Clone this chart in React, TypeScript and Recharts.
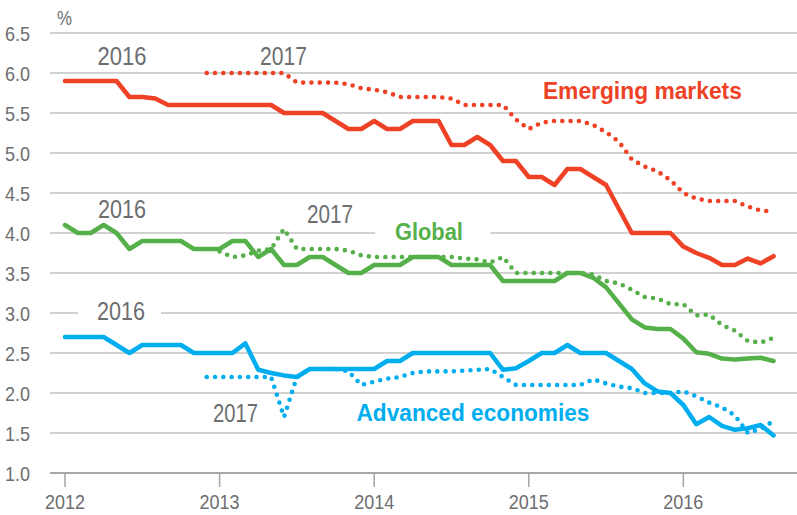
import React from 'react';
import { LineChart, Line, XAxis, YAxis, CartesianGrid, ReferenceArea, ReferenceDot } from 'recharts';

// Monthly forecasts, Jan 2012 .. Aug 2016 (56 months)
const em2016 = [
  5.9, 5.9, 5.9, 5.9, 5.9, 5.7, 5.7, 5.68, 5.6, 5.6, 5.6, 5.6,
  5.6, 5.6, 5.6, 5.6, 5.6, 5.5, 5.5, 5.5, 5.5, 5.4, 5.3, 5.3,
  5.4, 5.3, 5.3, 5.4, 5.4, 5.4, 5.1, 5.1, 5.2, 5.1, 4.9, 4.9,
  4.7, 4.7, 4.6, 4.8, 4.8, 4.7, 4.6, 4.3, 4.0, 4.0, 4.0, 4.0,
  3.83, 3.75, 3.69, 3.6, 3.6, 3.68, 3.62, 3.71,
];
const em2017 = [
  null, null, null, null, null, null, null, null, null, null, null, 6.0,
  6.0, 6.0, 6.0, 6.0, 6.0, 6.0, 5.88, 5.88, 5.88, 5.88, 5.86, 5.81,
  5.79, 5.76, 5.7, 5.7, 5.7, 5.7, 5.68, 5.6, 5.6, 5.6, 5.6, 5.42,
  5.3, 5.38, 5.4, 5.4, 5.4, 5.35, 5.26, 5.14, 4.92, 4.83, 4.77, 4.66,
  4.5, 4.43, 4.4, 4.4, 4.4, 4.33, 4.28, 4.27,
];
const gl2016 = [
  4.1, 4.0, 4.0, 4.1, 4.0, 3.8, 3.9, 3.9, 3.9, 3.9, 3.8, 3.8,
  3.8, 3.9, 3.9, 3.7, 3.8, 3.6, 3.6, 3.7, 3.7, 3.6, 3.5, 3.5,
  3.6, 3.6, 3.6, 3.7, 3.7, 3.7, 3.6, 3.6, 3.6, 3.6, 3.4, 3.4,
  3.4, 3.4, 3.4, 3.5, 3.5, 3.44, 3.32, 3.12, 2.92, 2.82, 2.8, 2.8,
  2.68, 2.51, 2.49, 2.43, 2.42, 2.43, 2.44, 2.4,
];
const gl2017 = [
  null, null, null, null, null, null, null, null, null, null, null, null,
  3.77, 3.7, 3.72, 3.78, 3.8, 4.05, 3.8, 3.8, 3.8, 3.8, 3.78, 3.72,
  3.7, 3.7, 3.7, 3.7, 3.7, 3.7, 3.7, 3.68, 3.67, 3.63, 3.7, 3.5,
  3.5, 3.5, 3.5, 3.5, 3.5, 3.48, 3.4, 3.37, 3.29, 3.2, 3.18, 3.11,
  3.11, 2.97, 2.98, 2.85, 2.78, 2.65, 2.63, 2.69,
];
const av2016 = [
  2.7, 2.7, 2.7, 2.7, 2.6, 2.5, 2.6, 2.6, 2.6, 2.6, 2.5, 2.5,
  2.5, 2.5, 2.62, 2.29, 2.25, 2.22, 2.2, 2.3, 2.3, 2.3, 2.3, 2.3,
  2.3, 2.4, 2.4, 2.5, 2.5, 2.5, 2.5, 2.5, 2.5, 2.5, 2.29, 2.31,
  2.4, 2.5, 2.5, 2.6, 2.5, 2.5, 2.5, 2.4, 2.3, 2.12, 2.02, 2.0,
  1.85, 1.61, 1.7, 1.59, 1.54, 1.56, 1.6, 1.47,
];
const av2017 = [
  null, null, null, null, null, null, null, null, null, null, null, 2.2,
  2.2, 2.2, 2.2, 2.2, 2.2, 1.7, 2.2, 2.3, 2.3, 2.3, 2.27, 2.1,
  2.14, 2.18, 2.2, 2.25, 2.27, 2.27, 2.27, 2.28, 2.29, 2.3, 2.2, 2.1,
  2.1, 2.1, 2.1, 2.1, 2.1, 2.17, 2.12, 2.08, 2.06, 2.0, 2.0, 2.0,
  2.02, 1.96, 1.88, 1.82, 1.72, 1.5, 1.55, 1.65,
];

const xTicks = [2012, 2013, 2014, 2015, 2016];
const yTicks = [1.0, 1.5, 2.0, 2.5, 3.0, 3.5, 4.0, 4.5, 5.0, 5.5, 6.0, 6.5];

const data = em2016.map((v, i) => ({
  t: 2012 + i / 12,
  em2016: v,
  em2017: em2017[i],
  gl2016: gl2016[i],
  gl2017: gl2017[i],
  av2016: av2016[i],
  av2017: av2017[i],
}));

const RED = '#ef4126';
const GREEN = '#55b04a';
const BLUE = '#00aeef';
const GRAY = '#6d6e70';
const GRID = '#c2c2c2';
const NARROW = "'Liberation Sans Narrow', 'Arial Narrow', 'Liberation Sans', Arial, sans-serif";
const BOLD = "'Liberation Sans', Arial, sans-serif";

const YTick = (props: any) => {
  const { x, y, payload } = props;
  return (
    <text x={x} y={y} dy={7.5} textAnchor="end" fill={GRAY} fontSize={21} fontFamily={NARROW}
      textLength={25} lengthAdjust="spacingAndGlyphs">
      {Number(payload.value).toFixed(1)}
    </text>
  );
};

const XTick = (props: any) => {
  const { x, y, payload } = props;
  return (
    <text x={x} y={y} dy={22} textAnchor="middle" fill={GRAY} fontSize={20} fontFamily={NARROW}
      textLength={40} lengthAdjust="spacingAndGlyphs">
      {payload.value}
    </text>
  );
};

const makeText = (text: string, color: string, size: number, width: number, bold: boolean) => (props: any) => (
  <text x={props.cx} y={props.cy} textAnchor="middle" fill={color} fontSize={size}
    fontFamily={bold ? BOLD : NARROW} fontWeight={bold ? 700 : 400}
    textLength={width} lengthAdjust="spacingAndGlyphs">
    {text}
  </text>
);

const annotations = [
  { x: 2011.997, y: 6.6, text: '%', color: GRAY, size: 21, width: 15, bold: false },
  { x: 2012.369, y: 6.1, text: '2016', color: GRAY, size: 25, width: 49, bold: false },
  { x: 2013.413, y: 6.1, text: '2017', color: GRAY, size: 25, width: 47, bold: false },
  { x: 2015.735, y: 5.675, text: 'Emerging markets', color: RED, size: 23, width: 199, bold: true },
  { x: 2012.369, y: 4.1875, text: '2016', color: GRAY, size: 25, width: 48, bold: false },
  { x: 2013.714, y: 4.125, text: '2017', color: GRAY, size: 25, width: 46, bold: false },
  { x: 2014.354, y: 3.9125, text: 'Global', color: GREEN, size: 23, width: 68, bold: true },
  { x: 2012.362, y: 2.9125, text: '2016', color: GRAY, size: 25, width: 48, bold: false },
  { x: 2013.103, y: 1.6375, text: '2017', color: GRAY, size: 25, width: 45, bold: false },
  { x: 2014.639, y: 1.65, text: 'Advanced economies', color: BLUE, size: 23, width: 233, bold: true },
];

const DOTS = '0 8.3';

export default function App() {
  return (
    <div style={{ position: 'absolute', left: 0, top: 0, width: 797, height: 515, background: '#fff' }}>
      <LineChart width={797} height={515} data={data} margin={{ top: 33, right: 0, bottom: 0, left: 0 }}>
        <CartesianGrid horizontal vertical={false} stroke={GRID} strokeWidth={1.6} />
        <XAxis dataKey="t" type="number" domain={[2011.903, 2016.735]} ticks={xTicks} allowDataOverflow
          height={42} tickSize={14} tickMargin={0} tick={<XTick />}
          axisLine={{ stroke: '#a8a8a8', strokeWidth: 2 }} tickLine={{ stroke: '#a8a8a8', strokeWidth: 1.6 }} />
        <YAxis type="number" domain={[1, 6.5]} ticks={yTicks} width={50} axisLine={false} tickLine={false}
          tickSize={0} tickMargin={20} tick={<YTick />} interval={0} />
        <ReferenceArea x1={2014.006} x2={2014.751} y1={3.88} y2={4.12} fill="#ffffff" fillOpacity={1} stroke="none" />
        <ReferenceArea x1={2012.084} x2={2012.621} y1={2.9} y2={3.1} fill="#ffffff" fillOpacity={1} stroke="none" />
        <Line type="linear" dataKey="em2016" stroke={RED} strokeWidth={4.5} dot={false} strokeLinejoin="round" strokeLinecap="round" isAnimationActive={false} />
        <Line type="linear" dataKey="gl2016" stroke={GREEN} strokeWidth={4.5} dot={false} strokeLinejoin="round" strokeLinecap="round" isAnimationActive={false} />
        <Line type="linear" dataKey="av2016" stroke={BLUE} strokeWidth={4.5} dot={false} strokeLinejoin="round" strokeLinecap="round" isAnimationActive={false} />
        <Line type="linear" dataKey="em2017" stroke={RED} strokeWidth={4.6} strokeDasharray={DOTS} strokeLinecap="round" dot={false} isAnimationActive={false} />
        <Line type="linear" dataKey="gl2017" stroke={GREEN} strokeWidth={4.6} strokeDasharray={DOTS} strokeLinecap="round" dot={false} isAnimationActive={false} />
        <Line type="linear" dataKey="av2017" stroke={BLUE} strokeWidth={4.6} strokeDasharray={DOTS} strokeLinecap="round" dot={false} isAnimationActive={false} />
        {annotations.map((a, i) => (
          <ReferenceDot key={i} x={a.x} y={a.y} r={0} ifOverflow="visible"
            shape={makeText(a.text, a.color, a.size, a.width, a.bold)} />
        ))}
      </LineChart>
    </div>
  );
}
